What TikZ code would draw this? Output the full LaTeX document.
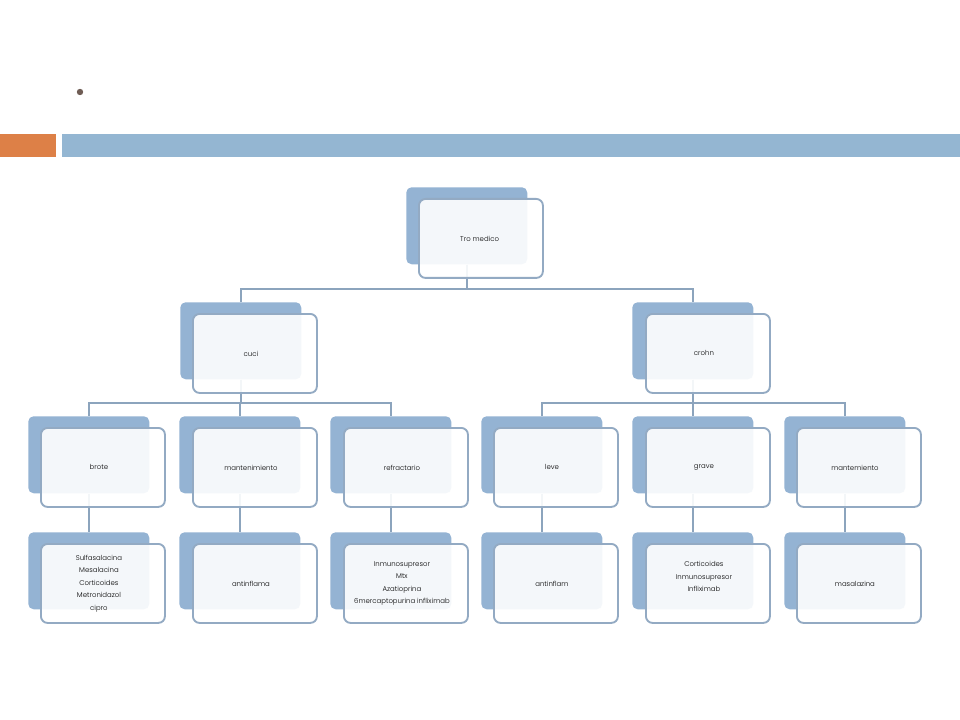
\documentclass[tikz,border=0pt]{standalone}
\usepackage{fontspec}
\setmainfont{Poppins Light}
\definecolor{backblue}{HTML}{94B3D3}
\definecolor{edgeblue}{HTML}{93AAC3}
\definecolor{connblue}{HTML}{8CA4BD}
\definecolor{barorange}{HTML}{DD8047}
\definecolor{barblue}{HTML}{94B6D2}
\definecolor{bulletbrown}{HTML}{6F5D55}
\begin{document}
\begin{tikzpicture}[x=0.75pt,y=-0.75pt,
  backbox/.style={draw=none,fill=backblue,rounded corners=4pt,minimum width=90.75pt,minimum height=57.75pt,inner sep=0pt,anchor=north west},
  frontbox/.style={draw=edgeblue,line width=1.4pt,fill=white,fill opacity=0.9,rounded corners=5pt,minimum width=93pt,minimum height=59.25pt,inner sep=0pt,anchor=north west},
  lbl/.style={font=\fontsize{5.2}{9.4}\selectfont,align=center,text=black,inner sep=0pt},
  conn/.style={draw=connblue,line width=1.4pt}]
\useasboundingbox (0,0) rectangle (960,720);
\fill[white] (0,0) rectangle (960,720);
% header
\fill[bulletbrown] (80,92) circle (2.4pt);
\fill[barorange] (0,134) rectangle (56,157);
\fill[barblue] (62,134) rectangle (960,157);
% bus coordinates
\coordinate (busA) at (0,289);
\coordinate (busB) at (0,403);
% back boxes
\node[backbox] (rootb) at (406,187) {};
\node[backbox] (cucib) at (180,302) {};
\node[backbox] (crohnb) at (632,302) {};
\node[backbox] (broteb) at (28,416) {};
\node[backbox] (mantb) at (179,416) {};
\node[backbox] (refrb) at (330,416) {};
\node[backbox] (leveb) at (481,416) {};
\node[backbox] (graveb) at (632,416) {};
\node[backbox] (mantemb) at (784,416) {};
\node[backbox] (tbroteb) at (28,532) {};
\node[backbox] (tmantb) at (179,532) {};
\node[backbox] (trefrb) at (330,532) {};
\node[backbox] (tleveb) at (481,532) {};
\node[backbox] (tgraveb) at (632,532) {};
\node[backbox] (tmantemb) at (784,532) {};
% connectors
\draw[conn] (rootb.south) -- (rootb.south |- busA) -| (cucib.north);
\draw[conn] (rootb.south) -- (rootb.south |- busA) -| (crohnb.north);
\draw[conn] (cucib.south) -- (cucib.south |- busB) -| (broteb.north);
\draw[conn] (cucib.south) -- (cucib.south |- busB) -| (mantb.north);
\draw[conn] (cucib.south) -- (cucib.south |- busB) -| (refrb.north);
\draw[conn] (crohnb.south) -- (crohnb.south |- busB) -| (leveb.north);
\draw[conn] (crohnb.south) -- (crohnb.south |- busB) -| (graveb.north);
\draw[conn] (crohnb.south) -- (crohnb.south |- busB) -| (mantemb.north);
\draw[conn] (broteb.south) -- (tbroteb.north);
\draw[conn] (mantb.south) -- (tmantb.north);
\draw[conn] (refrb.south) -- (trefrb.north);
\draw[conn] (leveb.south) -- (tleveb.north);
\draw[conn] (graveb.south) -- (tgraveb.north);
\draw[conn] (mantemb.south) -- (tmantemb.north);
% front boxes
\node[frontbox] (rootf) at (418,198) {};
\node[frontbox] (cucif) at (192,313) {};
\node[frontbox] (crohnf) at (645,313) {};
\node[frontbox] (brotef) at (40,427) {};
\node[frontbox] (mantf) at (192,427) {};
\node[frontbox] (refrf) at (343,427) {};
\node[frontbox] (levef) at (493,427) {};
\node[frontbox] (gravef) at (645,427) {};
\node[frontbox] (mantemf) at (796,427) {};
\node[frontbox] (tbrotef) at (40,543) {};
\node[frontbox] (tmantf) at (192,543) {};
\node[frontbox] (trefrf) at (343,543) {};
\node[frontbox] (tlevef) at (493,543) {};
\node[frontbox] (tgravef) at (645,543) {};
\node[frontbox] (tmantemf) at (796,543) {};
% labels
\node[lbl] (rootl) at ([xshift=-1pt]rootf.center) {Tro medico};
\node[lbl] (cucil) at ([xshift=-3pt]cucif.center) {cuci};
\node[lbl] (crohnl) at ([xshift=-3pt]crohnf.center) {crohn};
\node[lbl] (brotel) at ([xshift=-3pt]brotef.center) {brote};
\node[lbl] (mantl) at ([xshift=-3pt]mantf.center) {mantenimiento};
\node[lbl] (refrl) at ([xshift=-3pt]refrf.center) {refractario};
\node[lbl] (level) at ([xshift=-3pt]levef.center) {leve};
\node[lbl] (gravel) at ([xshift=-3pt]gravef.center) {grave};
\node[lbl] (manteml) at ([xshift=-3pt]mantemf.center) {mantemiento};
\node[lbl] (tbrotel) at ([xshift=-3pt]tbrotef.center) {Sulfasalacina\\ Mesalacina\\ Corticoides\\ Metronidazol\\ cipro};
\node[lbl] (tmantl) at ([xshift=-3pt]tmantf.center) {antinflama};
\node[lbl] (trefrl) at ([xshift=-3pt]trefrf.center) {Inmunosupresor\\ Mtx\\ Azatioprina\\ 6mercaptopurina infliximab};
\node[lbl] (tlevel) at ([xshift=-3pt]tlevef.center) {antinflam};
\node[lbl] (tgravel) at ([xshift=-3pt,yshift=5pt]tgravef.center) {Corticoides\\ Inmunosupresor\\ Infliximab};
\node[lbl] (tmanteml) at ([xshift=-3pt]tmantemf.center) {masalazina};
\end{tikzpicture}
\end{document}
